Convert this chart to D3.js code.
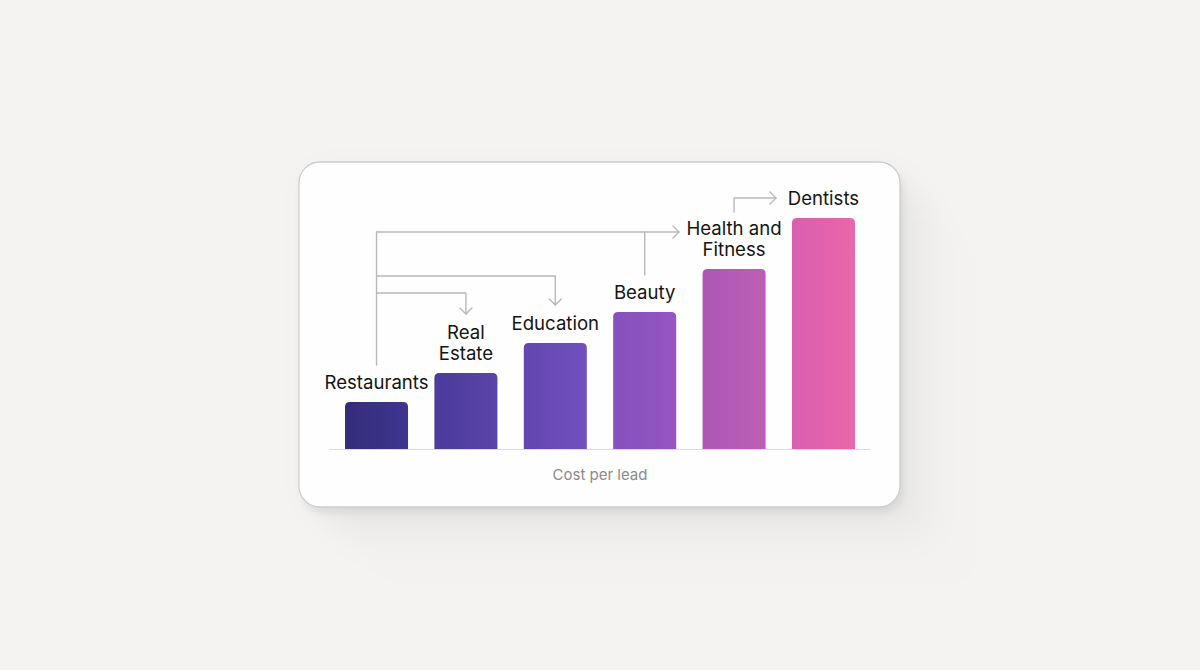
<!DOCTYPE html>
<html><head><meta charset="utf-8">
<script src="https://cdn.jsdelivr.net/npm/d3@7"></script>
<style>
html,body{margin:0;padding:0;background:#f4f3f1;}
svg{display:block;font-family:Inter,"Noto Sans",sans-serif;}
</style></head>
<body>
<svg id="chart" width="1200" height="670"></svg>
<script>
const categories = ["Restaurants","Real Estate","Education","Beauty","Health and Fitness","Dentists"];
const labelLines = [["Restaurants"],["Real","Estate"],["Education"],["Beauty"],["Health and","Fitness"],["Dentists"]];
const values = [47, 76, 106, 137, 180, 231];
const axisTitle = "Cost per lead";
const barColorsLeft  = ["#342c78","#4b3b9a","#6446b0","#8450bb","#ab58b6","#d85fb0"];
const barColorsRight = ["#3e3591","#5a44a8","#7150be","#9656c2","#bd5fb4","#ea66a8"];

const svg = d3.select("#chart");
const defs = svg.append("defs");

const card = {x:299, y:162, w:601, h:345, r:21};

// long diagonal shadow
const blur = defs.append("filter").attr("id","sh").attr("x","-30%").attr("y","-30%").attr("width","160%").attr("height","160%");
blur.append("feGaussianBlur").attr("stdDeviation", 14);
const shG = svg.append("g").attr("filter","url(#sh)");
d3.range(0, 80, 4).forEach(t => {
  shG.append("rect").attr("x", card.x + t + 4).attr("y", card.y + t + 4)
    .attr("width", card.w).attr("height", card.h).attr("rx", card.r)
    .attr("fill", "#000").attr("opacity", 0.011 * (1 - t/90));
});
const sh2 = defs.append("filter").attr("id","sh2").attr("x","-10%").attr("y","-10%").attr("width","120%").attr("height","130%");
sh2.append("feGaussianBlur").attr("stdDeviation", 4);
svg.append("rect").attr("x", card.x+3).attr("y", card.y+6).attr("width", card.w).attr("height", card.h)
  .attr("rx", card.r).attr("fill","#000").attr("opacity",0.07).attr("filter","url(#sh2)");

svg.append("rect").attr("x", card.x).attr("y", card.y).attr("width", card.w).attr("height", card.h)
  .attr("rx", card.r).attr("fill", "#fefefe").attr("stroke", "#cdcdcd").attr("stroke-width", 1.3);

const x = d3.scaleBand().domain(categories).range([331.6, 868.4]).paddingInner(0.295).paddingOuter(0.15);
const y = d3.scaleLinear().domain([0, 250]).range([449, 199]);

categories.forEach((c, i) => {
  const g = defs.append("linearGradient").attr("id", "g"+i).attr("x1","0").attr("x2","1").attr("y1","0").attr("y2","0");
  g.append("stop").attr("offset","0%").attr("stop-color", barColorsLeft[i]);
  g.append("stop").attr("offset","100%").attr("stop-color", barColorsRight[i]);
});

svg.append("line").attr("x1", 329).attr("x2", 870).attr("y1", y(0)+0.5).attr("y2", y(0)+0.5)
  .attr("stroke", "#dcdcdc").attr("stroke-width", 1.2);

const rr = 5;
function barPath(d, i) {
  const x0 = x(categories[i]), w = x.bandwidth(), y0 = y(d), yb = y(0);
  return `M${x0},${yb} V${y0+rr} Q${x0},${y0} ${x0+rr},${y0} H${x0+w-rr} Q${x0+w},${y0} ${x0+w},${y0+rr} V${yb} Z`;
}
svg.append("g").selectAll("path").data(values).join("path")
  .attr("d", (d,i) => barPath(d,i))
  .attr("fill", (d,i) => `url(#g${i})`);

const lineH = 21;
const lab = svg.append("g").selectAll("text").data(values).join("text")
  .attr("text-anchor","middle").attr("font-size", 18.6).attr("fill", "#141414")
  .attr("x", (d,i) => x(categories[i]) + x.bandwidth()/2);
lab.each(function(d, i) {
  const lines = labelLines[i];
  const base = y(d) - 13 - (lines.length - 1) * lineH;
  d3.select(this).selectAll("tspan").data(lines).join("tspan")
    .attr("x", x(categories[i]) + x.bandwidth()/2)
    .attr("y", (l, k) => base + k * lineH)
    .text(l => l);
});

svg.append("text").attr("x", 600).attr("y", 480).attr("text-anchor","middle")
  .attr("font-size", 15).attr("fill", "#8a8a8a").text(axisTitle);

const cx = i => x(categories[i]) + x.bandwidth()/2;
const lineColor = "#b9b9b9";
const cg = svg.append("g").attr("fill","none").attr("stroke", lineColor).attr("stroke-width", 1.4)
  .attr("stroke-linecap","round").attr("stroke-linejoin","round");
const topY = 232, midY = 276, lowY = 293;
cg.append("path").attr("d", `M${cx(0)},365 V${topY}`);
const hfArrowX = 679;
cg.append("path").attr("d", `M${cx(0)},${topY} H${hfArrowX}`);
cg.append("path").attr("d", `M${hfArrowX-6},${topY-6} L${hfArrowX},${topY} L${hfArrowX-6},${topY+6}`);
cg.append("path").attr("d", `M${cx(3)},${topY} V275`);
cg.append("path").attr("d", `M${cx(0)},${midY} H${cx(2)} V305`);
cg.append("path").attr("d", `M${cx(2)-6},299 L${cx(2)},305 L${cx(2)+6},299`);
cg.append("path").attr("d", `M${cx(0)},${lowY} H${cx(1)} V314`);
cg.append("path").attr("d", `M${cx(1)-6},308 L${cx(1)},314 L${cx(1)+6},308`);
cg.append("path").attr("d", `M${cx(4)},212 V198 H776`);
cg.append("path").attr("d", `M770,192 L776,198 L770,204`);
</script>
</body></html>
